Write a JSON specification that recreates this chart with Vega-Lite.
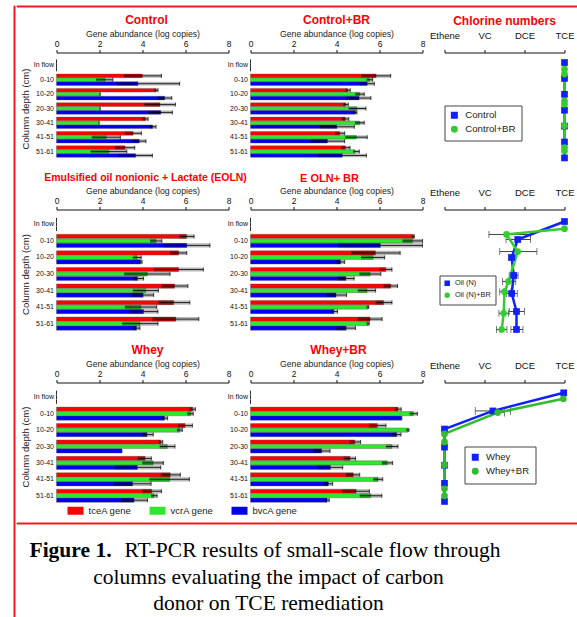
{
"$schema": "https://vega.github.io/schema/vega-lite/v6.json",
"padding": {"left": 12.5, "top": 4.5, "right": 0, "bottom": 0},
"config": {
  "font": "Liberation Sans",
  "view": {"stroke": null},
  "axis": {"grid": false, "labelColor": "#111", "titleColor": "#222", "domainColor": "#111", "tickColor": "#111", "titleFontWeight": "normal", "labelFont": "Liberation Sans", "titleFont": "Liberation Sans"},
  "axisX": {"tickSize": 3, "labelPadding": 1, "labelFontSize": 8.5, "titleFontSize": 8.7, "titlePadding": 1, "labelFlush": false},
  "axisY": {"domain": false, "ticks": false, "labelFontSize": 7, "labelPadding": 3, "titleFontSize": 9.5, "titlePadding": 3, "labelColor": "#111"},
  "title": {"color": "#ff0000", "fontSize": 12, "fontWeight": "bold", "offset": 3, "anchor": "middle", "frame": "group", "font": "Liberation Sans"},
  "legend": {"titleFontWeight": "normal", "labelColor": "#222", "labelFont": "Liberation Sans"}
},
"datasets": {
  "bars": [
    {"panel":"Control","depth":"In flow","gene":"tceA gene","value":0,"lo":0,"hi":0},
    {"panel":"Control","depth":"In flow","gene":"vcrA gene","value":0,"lo":0,"hi":0},
    {"panel":"Control","depth":"In flow","gene":"bvcA gene","value":0,"lo":0,"hi":0},
    {"panel":"Control","depth":"0-10","gene":"tceA gene","value":3.99,"lo":3.13,"hi":4.88},
    {"panel":"Control","depth":"0-10","gene":"vcrA gene","value":2.26,"lo":1.84,"hi":2.62},
    {"panel":"Control","depth":"0-10","gene":"bvcA gene","value":3.79,"lo":2.77,"hi":5.73},
    {"panel":"Control","depth":"10-20","gene":"tceA gene","value":4.63,"lo":4.55,"hi":4.72},
    {"panel":"Control","depth":"10-20","gene":"vcrA gene","value":2.03,"lo":2.03,"hi":2.03},
    {"panel":"Control","depth":"10-20","gene":"bvcA gene","value":5.03,"lo":4.70,"hi":5.36},
    {"panel":"Control","depth":"20-30","gene":"tceA gene","value":4.81,"lo":4.09,"hi":5.53},
    {"panel":"Control","depth":"20-30","gene":"vcrA gene","value":2.03,"lo":2.03,"hi":2.03},
    {"panel":"Control","depth":"20-30","gene":"bvcA gene","value":4.85,"lo":4.27,"hi":5.39},
    {"panel":"Control","depth":"30-41","gene":"tceA gene","value":4.13,"lo":4.00,"hi":4.26},
    {"panel":"Control","depth":"30-41","gene":"vcrA gene","value":1.98,"lo":1.98,"hi":1.98},
    {"panel":"Control","depth":"30-41","gene":"bvcA gene","value":4.47,"lo":4.32,"hi":4.63},
    {"panel":"Control","depth":"41-51","gene":"tceA gene","value":3.56,"lo":3.17,"hi":3.95},
    {"panel":"Control","depth":"41-51","gene":"vcrA gene","value":2.31,"lo":1.64,"hi":2.97},
    {"panel":"Control","depth":"41-51","gene":"bvcA gene","value":3.85,"lo":3.54,"hi":4.16},
    {"panel":"Control","depth":"51-61","gene":"tceA gene","value":3.19,"lo":2.71,"hi":3.64},
    {"panel":"Control","depth":"51-61","gene":"vcrA gene","value":2.43,"lo":1.59,"hi":3.27},
    {"panel":"Control","depth":"51-61","gene":"bvcA gene","value":3.68,"lo":2.88,"hi":4.46},

    {"panel":"Control+BR","depth":"In flow","gene":"tceA gene","value":0,"lo":0,"hi":0},
    {"panel":"Control+BR","depth":"In flow","gene":"vcrA gene","value":0,"lo":0,"hi":0},
    {"panel":"Control+BR","depth":"In flow","gene":"bvcA gene","value":0,"lo":0,"hi":0},
    {"panel":"Control+BR","depth":"0-10","gene":"tceA gene","value":5.84,"lo":5.14,"hi":6.52},
    {"panel":"Control+BR","depth":"0-10","gene":"vcrA gene","value":5.54,"lo":5.40,"hi":5.68},
    {"panel":"Control+BR","depth":"0-10","gene":"bvcA gene","value":5.43,"lo":5.08,"hi":5.76},
    {"panel":"Control+BR","depth":"10-20","gene":"tceA gene","value":4.52,"lo":4.40,"hi":4.64},
    {"panel":"Control+BR","depth":"10-20","gene":"vcrA gene","value":5.08,"lo":4.87,"hi":5.29},
    {"panel":"Control+BR","depth":"10-20","gene":"bvcA gene","value":5.05,"lo":4.46,"hi":5.60},
    {"panel":"Control+BR","depth":"20-30","gene":"tceA gene","value":4.43,"lo":4.30,"hi":4.55},
    {"panel":"Control+BR","depth":"20-30","gene":"vcrA gene","value":4.95,"lo":4.57,"hi":5.37},
    {"panel":"Control+BR","depth":"20-30","gene":"bvcA gene","value":4.88,"lo":4.80,"hi":4.95},
    {"panel":"Control+BR","depth":"30-41","gene":"tceA gene","value":4.41,"lo":4.25,"hi":4.57},
    {"panel":"Control+BR","depth":"30-41","gene":"vcrA gene","value":5.08,"lo":4.86,"hi":5.29},
    {"panel":"Control+BR","depth":"30-41","gene":"bvcA gene","value":4.02,"lo":3.22,"hi":4.83},
    {"panel":"Control+BR","depth":"41-51","gene":"tceA gene","value":4.15,"lo":3.92,"hi":4.38},
    {"panel":"Control+BR","depth":"41-51","gene":"vcrA gene","value":4.92,"lo":4.41,"hi":5.43},
    {"panel":"Control+BR","depth":"41-51","gene":"bvcA gene","value":3.58,"lo":2.79,"hi":4.38},
    {"panel":"Control+BR","depth":"51-61","gene":"tceA gene","value":4.41,"lo":4.23,"hi":4.63},
    {"panel":"Control+BR","depth":"51-61","gene":"vcrA gene","value":4.86,"lo":4.77,"hi":5.06},
    {"panel":"Control+BR","depth":"51-61","gene":"bvcA gene","value":4.27,"lo":3.14,"hi":5.39},

    {"panel":"EOLN","depth":"In flow","gene":"tceA gene","value":0,"lo":0,"hi":0},
    {"panel":"EOLN","depth":"In flow","gene":"vcrA gene","value":0,"lo":0,"hi":0},
    {"panel":"EOLN","depth":"In flow","gene":"bvcA gene","value":0,"lo":0,"hi":0},
    {"panel":"EOLN","depth":"0-10","gene":"tceA gene","value":6.05,"lo":5.70,"hi":6.40},
    {"panel":"EOLN","depth":"0-10","gene":"vcrA gene","value":4.63,"lo":4.35,"hi":4.90},
    {"panel":"EOLN","depth":"0-10","gene":"bvcA gene","value":6.06,"lo":4.97,"hi":7.14},
    {"panel":"EOLN","depth":"10-20","gene":"tceA gene","value":5.68,"lo":5.28,"hi":6.06},
    {"panel":"EOLN","depth":"10-20","gene":"vcrA gene","value":3.75,"lo":3.55,"hi":3.94},
    {"panel":"EOLN","depth":"10-20","gene":"bvcA gene","value":3.91,"lo":3.85,"hi":3.98},
    {"panel":"EOLN","depth":"20-30","gene":"tceA gene","value":5.68,"lo":4.50,"hi":6.83},
    {"panel":"EOLN","depth":"20-30","gene":"vcrA gene","value":4.22,"lo":3.15,"hi":5.28},
    {"panel":"EOLN","depth":"20-30","gene":"bvcA gene","value":3.77,"lo":3.60,"hi":4.05},
    {"panel":"EOLN","depth":"30-41","gene":"tceA gene","value":5.49,"lo":4.88,"hi":6.11},
    {"panel":"EOLN","depth":"30-41","gene":"vcrA gene","value":4.15,"lo":3.55,"hi":4.74},
    {"panel":"EOLN","depth":"30-41","gene":"bvcA gene","value":4.03,"lo":3.51,"hi":4.52},
    {"panel":"EOLN","depth":"41-51","gene":"tceA gene","value":5.45,"lo":4.74,"hi":6.20},
    {"panel":"EOLN","depth":"41-51","gene":"vcrA gene","value":3.92,"lo":3.18,"hi":4.66},
    {"panel":"EOLN","depth":"41-51","gene":"bvcA gene","value":4.05,"lo":3.37,"hi":4.72},
    {"panel":"EOLN","depth":"51-61","gene":"tceA gene","value":5.55,"lo":4.46,"hi":6.62},
    {"panel":"EOLN","depth":"51-61","gene":"vcrA gene","value":3.88,"lo":3.06,"hi":4.72},
    {"panel":"EOLN","depth":"51-61","gene":"bvcA gene","value":3.72,"lo":3.60,"hi":3.88},

    {"panel":"EOLN+BR","depth":"In flow","gene":"tceA gene","value":0,"lo":0,"hi":0},
    {"panel":"EOLN+BR","depth":"In flow","gene":"vcrA gene","value":0,"lo":0,"hi":0},
    {"panel":"EOLN+BR","depth":"In flow","gene":"bvcA gene","value":0,"lo":0,"hi":0},
    {"panel":"EOLN+BR","depth":"0-10","gene":"tceA gene","value":7.58,"lo":7.50,"hi":7.62},
    {"panel":"EOLN+BR","depth":"0-10","gene":"vcrA gene","value":7.53,"lo":7.07,"hi":8.0},
    {"panel":"EOLN+BR","depth":"0-10","gene":"bvcA gene","value":6.04,"lo":4.07,"hi":8.0},
    {"panel":"EOLN+BR","depth":"10-20","gene":"tceA gene","value":5.81,"lo":4.67,"hi":6.96},
    {"panel":"EOLN+BR","depth":"10-20","gene":"vcrA gene","value":5.70,"lo":5.15,"hi":6.24},
    {"panel":"EOLN+BR","depth":"10-20","gene":"bvcA gene","value":4.19,"lo":4.00,"hi":4.38},
    {"panel":"EOLN+BR","depth":"20-30","gene":"tceA gene","value":6.29,"lo":5.98,"hi":6.58},
    {"panel":"EOLN+BR","depth":"20-30","gene":"vcrA gene","value":5.56,"lo":5.07,"hi":6.06},
    {"panel":"EOLN+BR","depth":"20-30","gene":"bvcA gene","value":4.44,"lo":4.04,"hi":4.82},
    {"panel":"EOLN+BR","depth":"30-41","gene":"tceA gene","value":6.52,"lo":6.19,"hi":6.84},
    {"panel":"EOLN+BR","depth":"30-41","gene":"vcrA gene","value":5.42,"lo":4.99,"hi":5.82},
    {"panel":"EOLN+BR","depth":"30-41","gene":"bvcA gene","value":3.98,"lo":3.54,"hi":4.47},
    {"panel":"EOLN+BR","depth":"41-51","gene":"tceA gene","value":6.19,"lo":5.81,"hi":6.58},
    {"panel":"EOLN+BR","depth":"41-51","gene":"vcrA gene","value":5.45,"lo":5.40,"hi":5.50},
    {"panel":"EOLN+BR","depth":"41-51","gene":"bvcA gene","value":3.88,"lo":3.72,"hi":4.05},
    {"panel":"EOLN+BR","depth":"51-61","gene":"tceA gene","value":5.56,"lo":4.98,"hi":6.12},
    {"panel":"EOLN+BR","depth":"51-61","gene":"vcrA gene","value":5.47,"lo":5.40,"hi":5.52},
    {"panel":"EOLN+BR","depth":"51-61","gene":"bvcA gene","value":4.45,"lo":4.00,"hi":4.88},

    {"panel":"Whey","depth":"In flow","gene":"tceA gene","value":0,"lo":0,"hi":0},
    {"panel":"Whey","depth":"In flow","gene":"vcrA gene","value":0,"lo":0,"hi":0},
    {"panel":"Whey","depth":"In flow","gene":"bvcA gene","value":0,"lo":0,"hi":0},
    {"panel":"Whey","depth":"0-10","gene":"tceA gene","value":6.33,"lo":6.18,"hi":6.46},
    {"panel":"Whey","depth":"0-10","gene":"vcrA gene","value":6.24,"lo":6.08,"hi":6.36},
    {"panel":"Whey","depth":"0-10","gene":"bvcA gene","value":5.02,"lo":4.87,"hi":5.17},
    {"panel":"Whey","depth":"10-20","gene":"tceA gene","value":5.98,"lo":5.65,"hi":6.32},
    {"panel":"Whey","depth":"10-20","gene":"vcrA gene","value":5.73,"lo":5.60,"hi":5.85},
    {"panel":"Whey","depth":"10-20","gene":"bvcA gene","value":4.21,"lo":4.00,"hi":4.50},
    {"panel":"Whey","depth":"20-30","gene":"tceA gene","value":4.85,"lo":4.75,"hi":4.94},
    {"panel":"Whey","depth":"20-30","gene":"vcrA gene","value":5.15,"lo":4.80,"hi":5.51},
    {"panel":"Whey","depth":"20-30","gene":"bvcA gene","value":3.03,"lo":3.02,"hi":3.04},
    {"panel":"Whey","depth":"30-41","gene":"tceA gene","value":4.12,"lo":3.76,"hi":4.41},
    {"panel":"Whey","depth":"30-41","gene":"vcrA gene","value":4.49,"lo":3.99,"hi":4.97},
    {"panel":"Whey","depth":"30-41","gene":"bvcA gene","value":3.76,"lo":2.69,"hi":4.85},
    {"panel":"Whey","depth":"41-51","gene":"tceA gene","value":5.29,"lo":4.85,"hi":5.76},
    {"panel":"Whey","depth":"41-51","gene":"vcrA gene","value":5.26,"lo":4.32,"hi":6.18},
    {"panel":"Whey","depth":"41-51","gene":"bvcA gene","value":3.54,"lo":2.66,"hi":4.40},
    {"panel":"Whey","depth":"51-61","gene":"tceA gene","value":4.43,"lo":3.99,"hi":4.88},
    {"panel":"Whey","depth":"51-61","gene":"vcrA gene","value":4.54,"lo":4.40,"hi":4.68},
    {"panel":"Whey","depth":"51-61","gene":"bvcA gene","value":3.61,"lo":2.99,"hi":4.23},

    {"panel":"Whey+BR","depth":"In flow","gene":"tceA gene","value":0,"lo":0,"hi":0},
    {"panel":"Whey+BR","depth":"In flow","gene":"vcrA gene","value":0,"lo":0,"hi":0},
    {"panel":"Whey+BR","depth":"In flow","gene":"bvcA gene","value":0,"lo":0,"hi":0},
    {"panel":"Whey+BR","depth":"0-10","gene":"tceA gene","value":6.86,"lo":6.70,"hi":7.01},
    {"panel":"Whey+BR","depth":"0-10","gene":"vcrA gene","value":7.57,"lo":7.40,"hi":7.76},
    {"panel":"Whey+BR","depth":"0-10","gene":"bvcA gene","value":7.01,"lo":6.98,"hi":7.04},
    {"panel":"Whey+BR","depth":"10-20","gene":"tceA gene","value":5.90,"lo":5.50,"hi":6.30},
    {"panel":"Whey+BR","depth":"10-20","gene":"vcrA gene","value":7.31,"lo":7.25,"hi":7.37},
    {"panel":"Whey+BR","depth":"10-20","gene":"bvcA gene","value":6.80,"lo":6.60,"hi":7.00},
    {"panel":"Whey+BR","depth":"20-30","gene":"tceA gene","value":4.85,"lo":4.58,"hi":5.12},
    {"panel":"Whey+BR","depth":"20-30","gene":"vcrA gene","value":6.58,"lo":6.30,"hi":6.86},
    {"panel":"Whey+BR","depth":"20-30","gene":"bvcA gene","value":3.31,"lo":2.92,"hi":3.70},
    {"panel":"Whey+BR","depth":"30-41","gene":"tceA gene","value":4.63,"lo":4.33,"hi":4.89},
    {"panel":"Whey+BR","depth":"30-41","gene":"vcrA gene","value":6.36,"lo":6.11,"hi":6.61},
    {"panel":"Whey+BR","depth":"30-41","gene":"bvcA gene","value":3.72,"lo":3.13,"hi":4.29},
    {"panel":"Whey+BR","depth":"41-51","gene":"tceA gene","value":4.78,"lo":4.43,"hi":5.08},
    {"panel":"Whey+BR","depth":"41-51","gene":"vcrA gene","value":5.93,"lo":5.71,"hi":6.15},
    {"panel":"Whey+BR","depth":"41-51","gene":"bvcA gene","value":3.62,"lo":3.42,"hi":3.82},
    {"panel":"Whey+BR","depth":"51-61","gene":"tceA gene","value":4.91,"lo":4.26,"hi":5.53},
    {"panel":"Whey+BR","depth":"51-61","gene":"vcrA gene","value":5.59,"lo":5.08,"hi":6.11},
    {"panel":"Whey+BR","depth":"51-61","gene":"bvcA gene","value":3.56,"lo":3.46,"hi":3.66}
  ],
  "chlor": [
    {"panel":"Control","series":"Control","pos":0,"cl":3,"lo":null,"hi":null},
    {"panel":"Control","series":"Control","pos":1,"cl":3,"lo":null,"hi":null},
    {"panel":"Control","series":"Control","pos":2,"cl":3,"lo":null,"hi":null},
    {"panel":"Control","series":"Control","pos":3,"cl":3,"lo":null,"hi":null},
    {"panel":"Control","series":"Control","pos":4,"cl":3,"lo":null,"hi":null},
    {"panel":"Control","series":"Control","pos":5,"cl":3,"lo":null,"hi":null},
    {"panel":"Control","series":"Control","pos":6,"cl":3,"lo":null,"hi":null},
    {"panel":"Control","series":"Control+BR","pos":0.42,"cl":3,"lo":null,"hi":null},
    {"panel":"Control","series":"Control+BR","pos":0.73,"cl":3,"lo":null,"hi":null},
    {"panel":"Control","series":"Control+BR","pos":2.41,"cl":3,"lo":null,"hi":null},
    {"panel":"Control","series":"Control+BR","pos":2.62,"cl":3,"lo":null,"hi":null},
    {"panel":"Control","series":"Control+BR","pos":3.98,"cl":3,"lo":null,"hi":null},
    {"panel":"Control","series":"Control+BR","pos":5.35,"cl":3,"lo":null,"hi":null},
    {"panel":"Control","series":"Control+BR","pos":5.56,"cl":3,"lo":null,"hi":null},

    {"panel":"EOLN","series":"Oil (N)","pos":0,"cl":3,"lo":null,"hi":null},
    {"panel":"EOLN","series":"Oil (N)","pos":1,"cl":1.83,"lo":1.54,"hi":2.15},
    {"panel":"EOLN","series":"Oil (N)","pos":2,"cl":1.68,"lo":1.6,"hi":1.78},
    {"panel":"EOLN","series":"Oil (N)","pos":3,"cl":1.73,"lo":1.62,"hi":1.84},
    {"panel":"EOLN","series":"Oil (N)","pos":4,"cl":1.68,"lo":1.55,"hi":1.82},
    {"panel":"EOLN","series":"Oil (N)","pos":5,"cl":1.8,"lo":1.62,"hi":2.0},
    {"panel":"EOLN","series":"Oil (N)","pos":6,"cl":1.8,"lo":1.66,"hi":1.96},
    {"panel":"EOLN","series":"Oil (N)+BR","pos":0.4,"cl":3,"lo":null,"hi":null},
    {"panel":"EOLN","series":"Oil (N)+BR","pos":0.72,"cl":1.55,"lo":1.11,"hi":2.15},
    {"panel":"EOLN","series":"Oil (N)+BR","pos":1.67,"cl":1.83,"lo":1.38,"hi":2.31},
    {"panel":"EOLN","series":"Oil (N)+BR","pos":3.33,"cl":1.6,"lo":1.45,"hi":1.78},
    {"panel":"EOLN","series":"Oil (N)+BR","pos":3.9,"cl":1.5,"lo":1.38,"hi":1.66},
    {"panel":"EOLN","series":"Oil (N)+BR","pos":5.1,"cl":1.48,"lo":1.36,"hi":1.6},
    {"panel":"EOLN","series":"Oil (N)+BR","pos":6,"cl":1.43,"lo":1.3,"hi":1.56},

    {"panel":"Whey","series":"Whey","pos":0,"cl":2.98,"lo":null,"hi":null},
    {"panel":"Whey","series":"Whey","pos":1,"cl":1.21,"lo":0.77,"hi":1.65},
    {"panel":"Whey","series":"Whey","pos":2,"cl":0,"lo":null,"hi":null},
    {"panel":"Whey","series":"Whey","pos":3,"cl":0,"lo":null,"hi":null},
    {"panel":"Whey","series":"Whey","pos":4,"cl":0,"lo":null,"hi":null},
    {"panel":"Whey","series":"Whey","pos":5,"cl":0,"lo":null,"hi":null},
    {"panel":"Whey","series":"Whey","pos":6,"cl":0,"lo":null,"hi":null},
    {"panel":"Whey","series":"Whey+BR","pos":0.33,"cl":2.97,"lo":null,"hi":null},
    {"panel":"Whey","series":"Whey+BR","pos":1.09,"cl":1.33,"lo":1.17,"hi":1.5},
    {"panel":"Whey","series":"Whey+BR","pos":2.27,"cl":0,"lo":null,"hi":null},
    {"panel":"Whey","series":"Whey+BR","pos":2.71,"cl":0,"lo":null,"hi":null},
    {"panel":"Whey","series":"Whey+BR","pos":3.98,"cl":0,"lo":null,"hi":null},
    {"panel":"Whey","series":"Whey+BR","pos":5.3,"cl":0,"lo":null,"hi":null},
    {"panel":"Whey","series":"Whey+BR","pos":5.69,"cl":0,"lo":null,"hi":null}
  ],
  "caption": [
    {"line": 0, "part": "bold", "text": "Figure 1."},
    {"line": 0, "part": "rest", "text": "RT-PCR results of small-scale flow through"},
    {"line": 1, "part": "center", "text": "columns evaluating the impact of carbon"},
    {"line": 2, "part": "center", "text": "donor on TCE remediation"}
  ]
},
"spacing": 0,
"resolve": {"scale": {"color": "independent", "shape": "independent", "yOffset": "independent"}},
"hconcat": [
  {"width": 1, "height": 611, "data": {"values": []}, "mark": "point", "view": {"stroke": "#ee1c1c", "fill": "#ee1c1c", "strokeWidth": 1}},
  {
    "spacing": 6,
    "resolve": {"scale": {"color": "independent", "shape": "independent", "yOffset": "independent"}},
    "vconcat": [
      {"width": 562, "height": 1, "data": {"values": []}, "mark": "point", "view": {"stroke": "#ee1c1c", "fill": "#ee1c1c", "strokeWidth": 1}},
      {
        "spacing": 0,
        "resolve": {"scale": {"color": "independent", "shape": "independent", "yOffset": "independent"}},
        "hconcat": [
          {"width": 3, "height": 1, "data": {"values": []}, "mark": "point"},
          {
            "spacing": 8,
            "resolve": {"scale": {"color": "independent", "shape": "independent", "yOffset": "independent"}},
            "vconcat": [
              {
                "spacing": 22, "bounds": "flush",
                "resolve": {"scale": {"color": "independent", "shape": "independent", "yOffset": "independent"}},
                "hconcat": [
                  {
                    "width": 172, "height": 112,
                    "title": {"text": "Control", "dx": 4},
                    "data": {"name": "bars"},
                    "transform": [{"filter": "datum.panel === 'Control'"}],
                    "encoding": {
                      "y": {"field": "depth", "type": "nominal", "sort": ["In flow","0-10","10-20","20-30","30-41","41-51","51-61"], "scale": {"paddingInner": 0.2, "paddingOuter": 0.5}, "axis": {"title": "Column depth (cm)"}},
                      "yOffset": {"field": "gene", "type": "nominal", "sort": ["tceA gene","vcrA gene","bvcA gene"], "scale": {"paddingInner": 0.06}}
                    },
                    "layer": [
                      {"mark": {"type": "bar", "stroke": "#555", "strokeWidth": 0.4}, "encoding": {"x": {"field": "value", "type": "quantitative", "title": "Gene abundance (log copies)", "scale": {"domain": [0, 8], "nice": false}, "axis": {"orient": "top", "values": [0, 2, 4, 6, 8]}}, "color": {"field": "gene", "type": "nominal", "scale": {"domain": ["tceA gene","vcrA gene","bvcA gene"], "range": ["#ff0000", "#2ee82e", "#0000f0"]}, "legend": null}}},
                      {"mark": {"type": "bar", "color": "#000", "opacity": 0.28}, "encoding": {"x": {"field": "lo", "type": "quantitative", "title": "Gene abundance (log copies)"}, "x2": {"field": "hi"}}},
                      {"mark": {"type": "rule", "color": "#000", "strokeWidth": 0.8}, "encoding": {"x": {"field": "lo", "type": "quantitative", "title": "Gene abundance (log copies)"}, "x2": {"field": "hi"}}},
                      {"mark": {"type": "tick", "color": "#000", "orient": "vertical", "size": 4, "thickness": 1}, "encoding": {"x": {"field": "hi", "type": "quantitative", "title": "Gene abundance (log copies)"}}}
                    ]
                  },
                  {
                    "width": 172, "height": 112,
                    "title": {"text": "Control+BR"},
                    "data": {"name": "bars"},
                    "transform": [{"filter": "datum.panel === 'Control+BR'"}],
                    "encoding": {
                      "y": {"field": "depth", "type": "nominal", "sort": ["In flow","0-10","10-20","20-30","30-41","41-51","51-61"], "scale": {"paddingInner": 0.2, "paddingOuter": 0.5}, "axis": {"title": null}},
                      "yOffset": {"field": "gene", "type": "nominal", "sort": ["tceA gene","vcrA gene","bvcA gene"], "scale": {"paddingInner": 0.06}}
                    },
                    "layer": [
                      {"mark": {"type": "bar", "stroke": "#555", "strokeWidth": 0.4}, "encoding": {"x": {"field": "value", "type": "quantitative", "title": "Gene abundance (log copies)", "scale": {"domain": [0, 8], "nice": false}, "axis": {"orient": "top", "values": [0, 2, 4, 6, 8]}}, "color": {"field": "gene", "type": "nominal", "scale": {"domain": ["tceA gene","vcrA gene","bvcA gene"], "range": ["#ff0000", "#2ee82e", "#0000f0"]}, "legend": null}}},
                      {"mark": {"type": "bar", "color": "#000", "opacity": 0.28}, "encoding": {"x": {"field": "lo", "type": "quantitative", "title": "Gene abundance (log copies)"}, "x2": {"field": "hi"}}},
                      {"mark": {"type": "rule", "color": "#000", "strokeWidth": 0.8}, "encoding": {"x": {"field": "lo", "type": "quantitative", "title": "Gene abundance (log copies)"}, "x2": {"field": "hi"}}},
                      {"mark": {"type": "tick", "color": "#000", "orient": "vertical", "size": 4, "thickness": 1}, "encoding": {"x": {"field": "hi", "type": "quantitative", "title": "Gene abundance (log copies)"}}}
                    ]
                  },
                  {
                    "width": 120, "height": 112,
                    "title": {"text": "Chlorine numbers"},
                    "data": {"name": "chlor"},
                    "transform": [{"filter": "datum.panel === 'Control'"}],
                    "encoding": {
                      "y": {"field": "pos", "type": "quantitative", "scale": {"domain": [-0.63, 6.414], "reverse": true, "nice": false, "zero": false}, "axis": null},
                      "x": {"field": "cl", "type": "quantitative", "title": null, "scale": {"domain": [0, 3], "nice": false, "zero": false}, "axis": {"orient": "top", "values": [0, 1, 2, 3], "labelExpr": "['Ethene','VC','DCE','TCE'][datum.value]", "labelPadding": 9, "labelFontSize": 9.5, "tickSize": 3, "labelOverlap": false, "labelBound": false}},
                      "color": {"field": "series", "type": "nominal", "scale": {"domain": ["Control", "Control+BR"], "range": ["#1020ff", "#33cc33"]}, "legend": {"orient": "none", "legendX": 0, "legendY": 53, "title": null, "strokeColor": "#444", "fillColor": "white", "padding": 5, "labelFontSize": 9.7, "symbolSize": 30, "rowPadding": 2, "labelOffset": 6}}
                    },
                    "layer": [
                      {"mark": {"type": "line", "strokeWidth": 2.5}, "encoding": {"order": {"field": "pos", "type": "quantitative"}}},
                      {"mark": {"type": "point", "filled": true, "opacity": 1, "size": 45}, "encoding": {"shape": {"field": "series", "type": "nominal", "scale": {"domain": ["Control", "Control+BR"], "range": ["square", "circle"]}, "legend": {"orient": "none", "legendX": 0, "legendY": 53, "title": null, "strokeColor": "#444", "fillColor": "white", "padding": 5, "labelFontSize": 9.7, "symbolSize": 30, "rowPadding": 2, "labelOffset": 6}}}}
                    ]
                  }
                ]
              },
              {
                "spacing": 5,
                "resolve": {"scale": {"color": "independent", "shape": "independent", "yOffset": "independent"}},
                "vconcat": [
                  {
                    "spacing": 22, "bounds": "flush",
                    "resolve": {"scale": {"color": "independent", "shape": "independent", "yOffset": "independent"}},
                    "hconcat": [
                      {
                        "width": 172, "height": 129,
                        "title": {"text": "Emulsified oil nonionic + Lactate (EOLN)", "dx": 3, "fontSize": 10.5},
                        "data": {"name": "bars"},
                        "transform": [{"filter": "datum.panel === 'EOLN'"}],
                        "encoding": {
                          "y": {"field": "depth", "type": "nominal", "sort": ["In flow","0-10","10-20","20-30","30-41","41-51","51-61"], "scale": {"paddingInner": 0.2, "paddingOuter": 0.5}, "axis": {"title": "Column depth (cm)"}},
                          "yOffset": {"field": "gene", "type": "nominal", "sort": ["tceA gene","vcrA gene","bvcA gene"], "scale": {"paddingInner": 0.06}}
                        },
                        "layer": [
                          {"mark": {"type": "bar", "stroke": "#555", "strokeWidth": 0.4}, "encoding": {"x": {"field": "value", "type": "quantitative", "title": "Gene abundance (log copies)", "scale": {"domain": [0, 8], "nice": false}, "axis": {"orient": "top", "values": [0, 2, 4, 6, 8]}}, "color": {"field": "gene", "type": "nominal", "scale": {"domain": ["tceA gene","vcrA gene","bvcA gene"], "range": ["#ff0000", "#2ee82e", "#0000f0"]}, "legend": null}}},
                          {"mark": {"type": "bar", "color": "#000", "opacity": 0.28}, "encoding": {"x": {"field": "lo", "type": "quantitative", "title": "Gene abundance (log copies)"}, "x2": {"field": "hi"}}},
                          {"mark": {"type": "rule", "color": "#000", "strokeWidth": 0.8}, "encoding": {"x": {"field": "lo", "type": "quantitative", "title": "Gene abundance (log copies)"}, "x2": {"field": "hi"}}},
                          {"mark": {"type": "tick", "color": "#000", "orient": "vertical", "size": 4, "thickness": 1}, "encoding": {"x": {"field": "hi", "type": "quantitative", "title": "Gene abundance (log copies)"}}}
                        ]
                      },
                      {
                        "width": 172, "height": 129,
                        "title": {"text": "E OLN+ BR", "dx": -7, "fontSize": 11},
                        "data": {"name": "bars"},
                        "transform": [{"filter": "datum.panel === 'EOLN+BR'"}],
                        "encoding": {
                          "y": {"field": "depth", "type": "nominal", "sort": ["In flow","0-10","10-20","20-30","30-41","41-51","51-61"], "scale": {"paddingInner": 0.2, "paddingOuter": 0.5}, "axis": {"title": null}},
                          "yOffset": {"field": "gene", "type": "nominal", "sort": ["tceA gene","vcrA gene","bvcA gene"], "scale": {"paddingInner": 0.06}}
                        },
                        "layer": [
                          {"mark": {"type": "bar", "stroke": "#555", "strokeWidth": 0.4}, "encoding": {"x": {"field": "value", "type": "quantitative", "title": "Gene abundance (log copies)", "scale": {"domain": [0, 8], "nice": false}, "axis": {"orient": "top", "values": [0, 2, 4, 6, 8]}}, "color": {"field": "gene", "type": "nominal", "scale": {"domain": ["tceA gene","vcrA gene","bvcA gene"], "range": ["#ff0000", "#2ee82e", "#0000f0"]}, "legend": null}}},
                          {"mark": {"type": "bar", "color": "#000", "opacity": 0.28}, "encoding": {"x": {"field": "lo", "type": "quantitative", "title": "Gene abundance (log copies)"}, "x2": {"field": "hi"}}},
                          {"mark": {"type": "rule", "color": "#000", "strokeWidth": 0.8}, "encoding": {"x": {"field": "lo", "type": "quantitative", "title": "Gene abundance (log copies)"}, "x2": {"field": "hi"}}},
                          {"mark": {"type": "tick", "color": "#000", "orient": "vertical", "size": 4, "thickness": 1}, "encoding": {"x": {"field": "hi", "type": "quantitative", "title": "Gene abundance (log copies)"}}}
                        ]
                      },
                      {
                        "width": 120, "height": 129,
                        "data": {"name": "chlor"},
                        "transform": [{"filter": "datum.panel === 'EOLN'"}],
                        "encoding": {
                          "y": {"field": "pos", "type": "quantitative", "scale": {"domain": [-0.667, 6.5], "reverse": true, "nice": false, "zero": false}, "axis": null}
                        },
                        "layer": [
                          {"transform": [{"filter": "datum.lo != null"}], "mark": {"type": "rule", "color": "#444", "strokeWidth": 1}, "encoding": {"x": {"field": "lo", "type": "quantitative", "title": null, "scale": {"domain": [0, 3], "nice": false, "zero": false}, "axis": {"orient": "top", "values": [0, 1, 2, 3], "labelExpr": "['Ethene','VC','DCE','TCE'][datum.value]", "labelPadding": 9, "labelFontSize": 9.5, "tickSize": 3, "labelOverlap": false, "labelBound": false}}, "x2": {"field": "hi"}}},
                          {"transform": [{"filter": "datum.lo != null"}], "mark": {"type": "tick", "color": "#444", "orient": "vertical", "size": 7, "thickness": 1}, "encoding": {"x": {"field": "lo", "type": "quantitative", "title": null, "axis": {"orient": "top", "values": [0, 1, 2, 3], "labelExpr": "['Ethene','VC','DCE','TCE'][datum.value]", "labelPadding": 9, "labelFontSize": 9.5, "tickSize": 3, "labelOverlap": false, "labelBound": false}}}},
                          {"transform": [{"filter": "datum.lo != null"}], "mark": {"type": "tick", "color": "#444", "orient": "vertical", "size": 7, "thickness": 1}, "encoding": {"x": {"field": "hi", "type": "quantitative", "title": null, "axis": {"orient": "top", "values": [0, 1, 2, 3], "labelExpr": "['Ethene','VC','DCE','TCE'][datum.value]", "labelPadding": 9, "labelFontSize": 9.5, "tickSize": 3, "labelOverlap": false, "labelBound": false}}}},
                          {"mark": {"type": "line", "strokeWidth": 2.5}, "encoding": {"x": {"field": "cl", "type": "quantitative", "title": null, "axis": {"orient": "top", "values": [0, 1, 2, 3], "labelExpr": "['Ethene','VC','DCE','TCE'][datum.value]", "labelPadding": 9, "labelFontSize": 9.5, "tickSize": 3, "labelOverlap": false, "labelBound": false}}, "color": {"field": "series", "type": "nominal", "scale": {"domain": ["Oil (N)", "Oil (N)+BR"], "range": ["#1020ff", "#33cc33"]}, "legend": {"orient": "none", "legendX": -5, "legendY": 66, "title": null, "strokeColor": "#444", "fillColor": "white", "padding": 4, "labelFontSize": 7.4, "symbolSize": 16, "rowPadding": 1, "labelOffset": 4}}, "order": {"field": "pos", "type": "quantitative"}}},
                          {"mark": {"type": "point", "filled": true, "opacity": 1, "size": 45}, "encoding": {"x": {"field": "cl", "type": "quantitative", "title": null, "axis": {"orient": "top", "values": [0, 1, 2, 3], "labelExpr": "['Ethene','VC','DCE','TCE'][datum.value]", "labelPadding": 9, "labelFontSize": 9.5, "tickSize": 3, "labelOverlap": false, "labelBound": false}}, "color": {"field": "series", "type": "nominal", "scale": {"domain": ["Oil (N)", "Oil (N)+BR"], "range": ["#1020ff", "#33cc33"]}, "legend": {"orient": "none", "legendX": -5, "legendY": 66, "title": null, "strokeColor": "#444", "fillColor": "white", "padding": 4, "labelFontSize": 7.4, "symbolSize": 16, "rowPadding": 1, "labelOffset": 4}}, "shape": {"field": "series", "type": "nominal", "scale": {"domain": ["Oil (N)", "Oil (N)+BR"], "range": ["square", "circle"]}, "legend": {"orient": "none", "legendX": -5, "legendY": 66, "title": null, "strokeColor": "#444", "fillColor": "white", "padding": 4, "labelFontSize": 7.4, "symbolSize": 16, "rowPadding": 1, "labelOffset": 4}}}}
                        ]
                      }
                    ]
                  },
                  {
                    "spacing": 22, "bounds": "flush",
                    "resolve": {"scale": {"color": "independent", "shape": "independent", "yOffset": "independent"}},
                    "hconcat": [
                      {
                        "width": 172, "height": 128,
                        "title": {"text": "Whey", "dx": 5},
                        "data": {"name": "bars"},
                        "transform": [{"filter": "datum.panel === 'Whey'"}],
                        "encoding": {
                          "y": {"field": "depth", "type": "nominal", "sort": ["In flow","0-10","10-20","20-30","30-41","41-51","51-61"], "scale": {"paddingInner": 0.2, "paddingOuter": 0.5}, "axis": {"title": "Column depth (cm)"}},
                          "yOffset": {"field": "gene", "type": "nominal", "sort": ["tceA gene","vcrA gene","bvcA gene"], "scale": {"paddingInner": 0.06}}
                        },
                        "layer": [
                          {"mark": {"type": "bar", "stroke": "#555", "strokeWidth": 0.4}, "encoding": {"x": {"field": "value", "type": "quantitative", "title": "Gene abundance (log copies)", "scale": {"domain": [0, 8], "nice": false}, "axis": {"orient": "top", "values": [0, 2, 4, 6, 8]}}, "color": {"field": "gene", "type": "nominal", "scale": {"domain": ["tceA gene","vcrA gene","bvcA gene"], "range": ["#ff0000", "#2ee82e", "#0000f0"]}, "legend": {"orient": "none", "legendX": 11, "legendY": 120, "direction": "horizontal", "title": null, "symbolType": "M-1,-0.5H1V0.5H-1Z", "symbolSize": 256, "symbolStrokeWidth": 0, "labelFontSize": 9.5, "columnPadding": 18, "labelOffset": 5}}}},
                          {"mark": {"type": "bar", "color": "#000", "opacity": 0.28}, "encoding": {"x": {"field": "lo", "type": "quantitative", "title": "Gene abundance (log copies)"}, "x2": {"field": "hi"}}},
                          {"mark": {"type": "rule", "color": "#000", "strokeWidth": 0.8}, "encoding": {"x": {"field": "lo", "type": "quantitative", "title": "Gene abundance (log copies)"}, "x2": {"field": "hi"}}},
                          {"mark": {"type": "tick", "color": "#000", "orient": "vertical", "size": 4, "thickness": 1}, "encoding": {"x": {"field": "hi", "type": "quantitative", "title": "Gene abundance (log copies)"}}}
                        ]
                      },
                      {
                        "width": 172, "height": 128,
                        "title": {"text": "Whey+BR", "dx": 2},
                        "data": {"name": "bars"},
                        "transform": [{"filter": "datum.panel === 'Whey+BR'"}],
                        "encoding": {
                          "y": {"field": "depth", "type": "nominal", "sort": ["In flow","0-10","10-20","20-30","30-41","41-51","51-61"], "scale": {"paddingInner": 0.2, "paddingOuter": 0.5}, "axis": {"title": null}},
                          "yOffset": {"field": "gene", "type": "nominal", "sort": ["tceA gene","vcrA gene","bvcA gene"], "scale": {"paddingInner": 0.06}}
                        },
                        "layer": [
                          {"mark": {"type": "bar", "stroke": "#555", "strokeWidth": 0.4}, "encoding": {"x": {"field": "value", "type": "quantitative", "title": "Gene abundance (log copies)", "scale": {"domain": [0, 8], "nice": false}, "axis": {"orient": "top", "values": [0, 2, 4, 6, 8]}}, "color": {"field": "gene", "type": "nominal", "scale": {"domain": ["tceA gene","vcrA gene","bvcA gene"], "range": ["#ff0000", "#2ee82e", "#0000f0"]}, "legend": null}}},
                          {"mark": {"type": "bar", "color": "#000", "opacity": 0.28}, "encoding": {"x": {"field": "lo", "type": "quantitative", "title": "Gene abundance (log copies)"}, "x2": {"field": "hi"}}},
                          {"mark": {"type": "rule", "color": "#000", "strokeWidth": 0.8}, "encoding": {"x": {"field": "lo", "type": "quantitative", "title": "Gene abundance (log copies)"}, "x2": {"field": "hi"}}},
                          {"mark": {"type": "tick", "color": "#000", "orient": "vertical", "size": 4, "thickness": 1}, "encoding": {"x": {"field": "hi", "type": "quantitative", "title": "Gene abundance (log copies)"}}}
                        ]
                      },
                      {
                        "width": 120, "height": 128,
                        "data": {"name": "chlor"},
                        "transform": [{"filter": "datum.panel === 'Whey'"}],
                        "encoding": {
                          "y": {"field": "pos", "type": "quantitative", "scale": {"domain": [-0.57, 6.5], "reverse": true, "nice": false, "zero": false}, "axis": null}
                        },
                        "layer": [
                          {"transform": [{"filter": "datum.lo != null"}], "mark": {"type": "rule", "color": "#444", "strokeWidth": 1}, "encoding": {"x": {"field": "lo", "type": "quantitative", "title": null, "scale": {"domain": [0, 3], "nice": false, "zero": false}, "axis": {"orient": "top", "values": [0, 1, 2, 3], "labelExpr": "['Ethene','VC','DCE','TCE'][datum.value]", "labelPadding": 9, "labelFontSize": 9.5, "tickSize": 3, "labelOverlap": false, "labelBound": false}}, "x2": {"field": "hi"}}},
                          {"transform": [{"filter": "datum.lo != null"}], "mark": {"type": "tick", "color": "#444", "orient": "vertical", "size": 8, "thickness": 1}, "encoding": {"x": {"field": "lo", "type": "quantitative", "title": null, "axis": {"orient": "top", "values": [0, 1, 2, 3], "labelExpr": "['Ethene','VC','DCE','TCE'][datum.value]", "labelPadding": 9, "labelFontSize": 9.5, "tickSize": 3, "labelOverlap": false, "labelBound": false}}}},
                          {"transform": [{"filter": "datum.lo != null"}], "mark": {"type": "tick", "color": "#444", "orient": "vertical", "size": 8, "thickness": 1}, "encoding": {"x": {"field": "hi", "type": "quantitative", "title": null, "axis": {"orient": "top", "values": [0, 1, 2, 3], "labelExpr": "['Ethene','VC','DCE','TCE'][datum.value]", "labelPadding": 9, "labelFontSize": 9.5, "tickSize": 3, "labelOverlap": false, "labelBound": false}}}},
                          {"mark": {"type": "line", "strokeWidth": 2.5}, "encoding": {"x": {"field": "cl", "type": "quantitative", "title": null, "axis": {"orient": "top", "values": [0, 1, 2, 3], "labelExpr": "['Ethene','VC','DCE','TCE'][datum.value]", "labelPadding": 9, "labelFontSize": 9.5, "tickSize": 3, "labelOverlap": false, "labelBound": false}}, "color": {"field": "series", "type": "nominal", "scale": {"domain": ["Whey", "Whey+BR"], "range": ["#1020ff", "#33bb33"]}, "legend": {"orient": "none", "legendX": 20, "legendY": 64, "title": null, "strokeColor": "#444", "fillColor": "white", "padding": 6, "labelFontSize": 9.5, "symbolSize": 30, "rowPadding": 2, "labelOffset": 6}}, "order": {"field": "pos", "type": "quantitative"}}},
                          {"mark": {"type": "point", "filled": true, "opacity": 1, "size": 45}, "encoding": {"x": {"field": "cl", "type": "quantitative", "title": null, "axis": {"orient": "top", "values": [0, 1, 2, 3], "labelExpr": "['Ethene','VC','DCE','TCE'][datum.value]", "labelPadding": 9, "labelFontSize": 9.5, "tickSize": 3, "labelOverlap": false, "labelBound": false}}, "color": {"field": "series", "type": "nominal", "scale": {"domain": ["Whey", "Whey+BR"], "range": ["#1020ff", "#33bb33"]}, "legend": {"orient": "none", "legendX": 20, "legendY": 64, "title": null, "strokeColor": "#444", "fillColor": "white", "padding": 6, "labelFontSize": 9.5, "symbolSize": 30, "rowPadding": 2, "labelOffset": 6}}, "shape": {"field": "series", "type": "nominal", "scale": {"domain": ["Whey", "Whey+BR"], "range": ["square", "circle"]}, "legend": {"orient": "none", "legendX": 20, "legendY": 64, "title": null, "strokeColor": "#444", "fillColor": "white", "padding": 6, "labelFontSize": 9.5, "symbolSize": 30, "rowPadding": 2, "labelOffset": 6}}}}
                        ]
                      }
                    ]
                  }
                ]
              }
            ]
          }
        ]
      },
      {"width": 562, "height": 1, "data": {"values": []}, "mark": "point", "view": {"stroke": "#ee1c1c", "fill": "#ee1c1c", "strokeWidth": 1}},
      {
        "width": 562, "height": 84,
        "data": {"name": "caption"},
        "encoding": {"y": {"field": "line", "type": "ordinal", "scale": {"type": "point", "padding": 0.615}, "axis": null}},
        "layer": [
          {"transform": [{"filter": "datum.part === 'bold'"}], "mark": {"type": "text", "font": "Liberation Serif", "fontSize": 21.5, "fontWeight": "bold", "align": "left", "baseline": "middle", "dx": -268, "dy": 5, "color": "#000"}, "encoding": {"text": {"field": "text"}}},
          {"transform": [{"filter": "datum.part === 'rest'"}], "mark": {"type": "text", "font": "Liberation Serif", "fontSize": 21.5, "align": "left", "baseline": "middle", "dx": -173, "dy": 5, "color": "#000"}, "encoding": {"text": {"field": "text"}}},
          {"transform": [{"filter": "datum.part === 'center'"}], "mark": {"type": "text", "font": "Liberation Serif", "fontSize": 21.5, "align": "center", "baseline": "middle", "dx": -29, "dy": 5, "color": "#000"}, "encoding": {"text": {"field": "text"}}}
        ]
      }
    ]
  }
]
}
